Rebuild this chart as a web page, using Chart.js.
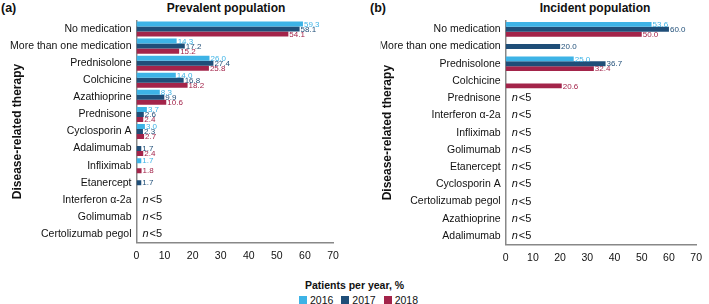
<!DOCTYPE html>
<html>
<head>
<meta charset="utf-8">
<script src="https://cdn.jsdelivr.net/npm/chart.js@4"></script>
<style>
  body { margin: 0; width: 709px; height: 304px; background: #fff; font-family: "Liberation Sans", Arial, sans-serif; color: #111; position: relative; overflow: hidden; }
  .panel { position: absolute; top: 0; height: 268px; }
  .tag { position: absolute; top: 1px; font-size: 12.5px; font-weight: bold; }
  .ttl { position: absolute; top: 1px; font-size: 12px; font-weight: bold; text-align: center; transform: translateX(-50%); white-space: nowrap; }
  #legend { position: absolute; left: 0; width: 709px; top: 279px; text-align: center; line-height: 13px; }
  #legend .lt { font-size: 10.5px; font-weight: bold; }
  #legend .items { font-size: 10.5px; margin-top: 2px; }
  #legend .sq { display: inline-block; width: 8px; height: 8px; margin: 0 3px 0 8px; vertical-align: 0px; }
</style>
</head>
<body>
<div class="tag" style="left:1px">(a)</div>
<div class="ttl" style="left:226px">Prevalent population</div>
<div class="tag" style="left:370px">(b)</div>
<div class="ttl" style="left:595px">Incident population</div>

<div class="panel" style="left:0; width:355px"><canvas id="prevChart"></canvas></div>
<div class="panel" style="left:355px; width:354px"><canvas id="incChart"></canvas></div>

<div id="legend">
  <div class="lt">Patients per year, %</div>
  <div class="items" id="legendItems"></div>
</div>

<script>
// 数据
const years = ['2016', '2017', '2018'];
const yearColors = ['#3db3e6', '#1f4e78', '#a3244a'];

const prevCategories = ['No medication', 'More than one medication', 'Prednisolone', 'Colchicine',
  'Azathioprine', 'Prednisone', 'Cyclosporin A', 'Adalimumab', 'Infliximab', 'Etanercept',
  'Interferon α-2a', 'Golimumab', 'Certolizumab pegol'];
const prev2016 = [59.3, 14.3, 26.0, 14.0, 8.3, 3.7, 3.0, null, 1.7, null, null, null, null];
const prev2017 = [58.1, 17.2, 27.4, 16.8, 9.9, 2.6, 2.3, 1.7, null, 1.7, null, null, null];
const prev2018 = [54.1, 15.2, 25.8, 18.2, 10.6, 2.4, 2.7, 2.4, 1.8, null, null, null, null];

const incCategories = ['No medication', 'More than one medication', 'Prednisolone', 'Colchicine',
  'Prednisone', 'Interferon α-2a', 'Infliximab', 'Golimumab', 'Etanercept', 'Cyclosporin A',
  'Certolizumab pegol', 'Azathioprine', 'Adalimumab'];
const inc2016 = [53.6, null, 25.0, null, null, null, null, null, null, null, null, null, null];
const inc2017 = [60.0, 20.0, 36.7, null, null, null, null, null, null, null, null, null, null];
const inc2018 = [50.0, null, 32.4, 20.6, null, null, null, null, null, null, null, null, null];

const xMin = 0, xMax = 70, xStep = 10;

const FONT = '"Liberation Sans", Arial, sans-serif';

// 数值标签 + n<5
const labelPlugin = {
  id: 'barLabels',
  afterDatasetsDraw(chart) {
    const ctx = chart.ctx;
    ctx.save();
    ctx.textBaseline = 'middle';
    ctx.textAlign = 'left';
    chart.data.datasets.forEach((ds, i) => {
      const meta = chart.getDatasetMeta(i);
      ctx.fillStyle = ds.backgroundColor;
      ctx.font = '8px ' + FONT;
      meta.data.forEach((el, j) => {
        const v = ds.data[j];
        if (v === null) return;
        ctx.fillText(v.toFixed(1), el.x + 1, el.y + 0.5);
      });
    });
    // 全部为空的类别
    const yScale = chart.scales.y;
    chart.data.labels.forEach((lab, j) => {
      const empty = chart.data.datasets.every(ds => ds.data[j] === null);
      if (!empty) return;
      const y = yScale.getPixelForValue(j);
      const x = chart.chartArea.left + 6;
      ctx.fillStyle = '#111';
      ctx.font = 'italic 11px ' + FONT;
      ctx.fillText('n', x, y);
      const w = ctx.measureText('n').width;
      ctx.font = '11px ' + FONT;
      ctx.fillText('<5', x + w + 1, y);
    });
    ctx.restore();
  }
};

function makeChart(id, cats, series, opts) {
  return new Chart(document.getElementById(id), {
    type: 'bar',
    data: {
      labels: cats,
      datasets: series.map((d, i) => ({
        label: years[i],
        data: d,
        backgroundColor: yearColors[i],
        categoryPercentage: opts.catPct,
        barPercentage: 1.0
      }))
    },
    options: {
      indexAxis: 'y',
      responsive: true,
      maintainAspectRatio: false,
      animation: false,
      layout: { padding: { left: opts.padLeft, right: opts.padRight, top: opts.padTop, bottom: 0 } },
      plugins: { legend: { display: false }, tooltip: { enabled: false } },
      scales: {
        x: {
          min: xMin, max: xMax,
          ticks: { stepSize: xStep, color: '#111', padding: 7, font: { family: FONT, size: 10.5 } },
          grid: { display: false, drawTicks: false },
          border: { display: true, color: '#888', width: 1.5 },
          afterFit(scale) { scale.height = opts.xHeight; }
        },
        y: {
          ticks: { color: '#111', padding: 5, autoSkip: false, font: { family: FONT, size: 10.5 } },
          grid: { display: false, drawTicks: false },
          border: { display: true, color: '#888', width: 1.5 },
          title: { display: true, text: 'Disease-related therapy', color: '#111', padding: 0,
                   font: { family: FONT, size: 12, weight: 'bold' } },
          afterFit(scale) { scale.width = opts.yWidth; }
        }
      }
    },
    plugins: [labelPlugin]
  });
}

makeChart('prevChart', prevCategories, [prev2016, prev2017, prev2018],
  { catPct: 0.88, padLeft: 10, padRight: 22, padTop: 20.5, yWidth: 126.5, xHeight: 25.5 });
makeChart('incChart', incCategories, [inc2016, inc2017, inc2018],
  { catPct: 0.85, padLeft: 25.8, padRight: 7.3, padTop: 20.7, yWidth: 124.9, xHeight: 23.4 });

// 图例
const li = document.getElementById('legendItems');
years.forEach((y, i) => {
  li.innerHTML += `<span class="sq" style="background:${yearColors[i]}"></span>${y}`;
});
</script>
</body>
</html>
